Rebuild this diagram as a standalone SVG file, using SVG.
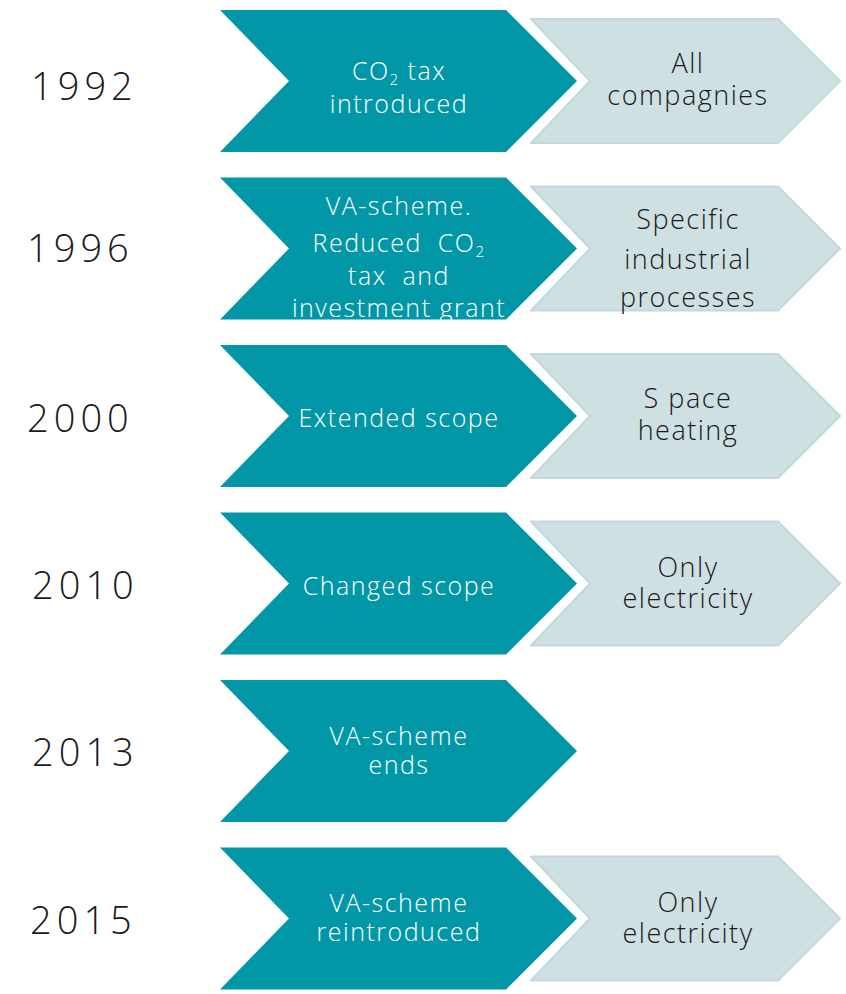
<svg xmlns="http://www.w3.org/2000/svg" width="846" height="994" viewBox="0 0 846 994">
  <style>
    .year { font-family: "Open Sans", "Liberation Sans", sans-serif; font-weight: 300; font-size: 38px; fill: #1a1a1a; letter-spacing: 5px; }
    .step { fill: #0297a7; }
    .scope { fill: #cfe0e3; stroke: #c4d8db; stroke-width: 2; stroke-linejoin: round; }
    .wt { font-family: "Open Sans", "Liberation Sans", sans-serif; font-weight: 300; font-size: 25px; fill: #ffffff; text-anchor: middle; letter-spacing: 1.5px; white-space: pre; }
    .dt { font-family: "Open Sans", "Liberation Sans", sans-serif; font-weight: 300; font-size: 27px; fill: #1a1a1a; text-anchor: middle; letter-spacing: 1.5px; }
    .sub { font-size: 15px; }
  </style>
  <defs>
    <!-- dark chevron, centred vertically on y=0 -->
    <polygon id="stepShape" points="220,-71 506,-71 577,0 506,71 220,71 289,0"/>
    <!-- light chevron, centred vertically on y=0 -->
    <polygon id="scopeShape" points="531,-62 778,-62 840,0 778,62 531,62 590,0"/>
  </defs>

  <g id="row-1992">
    <text class="year" x="31" y="100">1992</text>
    <use href="#stepShape" class="step" transform="translate(0,81)"/>
    <use href="#scopeShape" class="scope" transform="translate(0,81)"/>
    <text class="wt" x="399" y="80">CO<tspan class="sub" dy="5">2</tspan><tspan dy="-5"> tax</tspan></text>
    <text class="wt" x="399" y="113">introduced</text>
    <text class="dt" x="688" y="73">All</text>
    <text class="dt" x="688" y="105">compagnies</text>
  </g>

  <g id="row-1996">
    <text class="year" x="27" y="262">1996</text>
    <use href="#stepShape" class="step" transform="translate(0,248.5)"/>
    <use href="#scopeShape" class="scope" transform="translate(0,248.5)"/>
    <text class="wt" x="399" y="215">VA-scheme.</text>
    <text class="wt" x="399" y="252" xml:space="preserve">Reduced  CO<tspan class="sub" dy="5">2</tspan></text>
    <text class="wt" x="399" y="285" xml:space="preserve">tax  and</text>
    <text class="wt" x="399" y="317">investment grant</text>
    <text class="dt" x="688" y="229">Specific</text>
    <text class="dt" x="688" y="269">industrial</text>
    <text class="dt" x="688" y="307">processes</text>
  </g>

  <g id="row-2000">
    <text class="year" x="27" y="432">2000</text>
    <use href="#stepShape" class="step" transform="translate(0,416)"/>
    <use href="#scopeShape" class="scope" transform="translate(0,416)"/>
    <text class="wt" x="399" y="427">Extended scope</text>
    <text class="dt" x="688" y="408">S pace</text>
    <text class="dt" x="688" y="440">heating</text>
  </g>

  <g id="row-2010">
    <text class="year" x="32" y="599">2010</text>
    <use href="#stepShape" class="step" transform="translate(0,583.5)"/>
    <use href="#scopeShape" class="scope" transform="translate(0,583.5)"/>
    <text class="wt" x="399" y="595">Changed scope</text>
    <text class="dt" x="688" y="577">Only</text>
    <text class="dt" x="688" y="608">electricity</text>
  </g>

  <g id="row-2013">
    <text class="year" x="32" y="766">2013</text>
    <use href="#stepShape" class="step" transform="translate(0,751)"/>
    <text class="wt" x="399" y="745">VA-scheme</text>
    <text class="wt" x="399" y="774">ends</text>
  </g>

  <g id="row-2015">
    <text class="year" x="30" y="934">2015</text>
    <use href="#stepShape" class="step" transform="translate(0,918.5)"/>
    <use href="#scopeShape" class="scope" transform="translate(0,918.5)"/>
    <text class="wt" x="399" y="912">VA-scheme</text>
    <text class="wt" x="399" y="941">reintroduced</text>
    <text class="dt" x="688" y="912">Only</text>
    <text class="dt" x="688" y="943">electricity</text>
  </g>
</svg>
